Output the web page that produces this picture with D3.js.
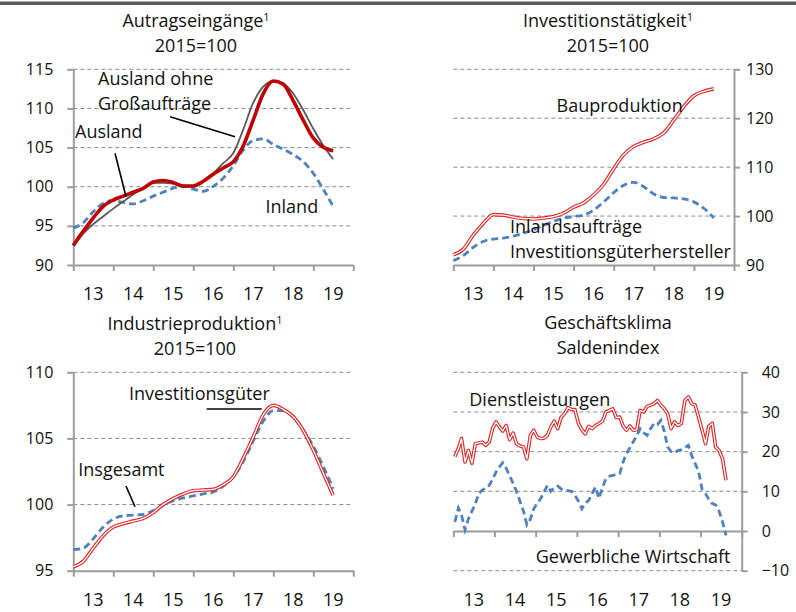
<!DOCTYPE html>
<html>
<head>
<meta charset="utf-8">
<title>Konjunkturindikatoren</title>
<style>
  body { margin: 0; background: #fff; }
  svg { font-family: "Open Sans", sans-serif; fill: #111; }
  .grid line { stroke: #8a8a8a; stroke-width: 1; stroke-dasharray: 4,3; }
  .axis path, .axis line { stroke: #9c9c9c; stroke-width: 2; }
  .axis text { font-size: 16px; fill: #111; font-family: "Open Sans", sans-serif; }
  .year { font-size: 18px; }
  .title { font-size: 18px; }
  .note { font-size: 18px; }
</style>
</head>
<body>
<script src="https://d3js.org/d3.v7.min.js"></script>
<script>
var W = 796, H = 612;

var yearLabels = ["13", "14", "15", "16", "17", "18", "19"];
// quarterly points Jan 2013 .. Jul 2019 (27), monthly Jan 2013 .. Aug 2019 (80)
var quarters = d3.timeMonth.every(3).range(new Date(2013, 0, 1), new Date(2019, 7, 1));
var months = d3.timeMonth.range(new Date(2013, 0, 1), new Date(2019, 8, 1));

// Auftragseingänge
var auslandVals = [92.5, 94.3, 96.0, 97.5, 98.3, 98.8, 99.3, 99.8, 100.6, 100.8, 100.55, 100.1, 100.1,
                   100.7, 101.6, 102.4, 103.2, 105.2, 108.5, 111.9, 113.5, 113.1, 111.0, 108.5, 106.2, 105.05, 104.6];
var auslandOhneVals = [92.5, 94.0, 95.2, 96.2, 97.2, 98.1, 99.0, 99.8, 100.5, 100.5, 100.4, 99.95, 100.0,
                       100.6, 101.7, 103.0, 104.3, 107.3, 110.7, 112.8, 113.5, 113.2, 111.9, 109.8, 107.4, 105.3, 103.5];
var inlandVals = [94.7, 95.4, 96.8, 97.9, 98.25, 98.0, 97.8, 98.2, 98.8, 99.3, 99.8, 100.1, 99.7,
                  99.4, 100.05, 101.1, 102.7, 104.7, 105.9, 106.1, 105.4, 104.8, 104.1, 103.2, 101.7, 99.7, 97.5];

// Investitionstätigkeit
var bauVals = [92.1, 93.2, 96.1, 98.5, 100.3, 100.2, 99.8, 99.5, 99.4, 99.6, 99.9, 100.6, 101.8,
               102.7, 104.3, 106.5, 109.7, 112.5, 114.2, 115.1, 115.8, 117.0, 119.6, 122.4, 124.6, 125.5, 126.0];
var invInlandVals = [90.9, 91.9, 93.6, 94.8, 95.3, 95.5, 95.9, 96.5, 97.2, 98.1, 98.9, 99.6, 99.9,
                     100.2, 101.2, 102.9, 104.8, 106.3, 106.9, 106.0, 104.5, 103.8, 103.7, 103.5, 102.9, 101.6, 99.6];

// Industrieproduktion
var invGueterVals = [95.3, 95.7, 96.7, 97.65, 98.3, 98.55, 98.75, 98.95, 99.4, 100.0, 100.45, 100.8, 101.05,
                     101.1, 101.15, 101.5, 102.1, 103.5, 105.1, 106.8, 107.5, 107.2, 106.65, 105.6, 104.1, 102.4, 100.7];
var insgesamtVals = [96.6, 96.7, 97.4, 98.3, 98.9, 99.15, 99.2, 99.25, 99.55, 99.95, 100.3, 100.5, 100.65,
                     100.8, 100.95, 101.4, 102.1, 103.25, 104.8, 106.3, 107.1, 107.1, 106.6, 105.65, 104.4, 102.9, 101.2];

// Geschäftsklima (monthly)
var dienstVals = [18.8, 20.8, 23.3, 17.4, 20.3, 17.1, 22.0, 22.2, 22.4, 21.6, 22.4, 25.8,
                  27.5, 26.2, 25.2, 26.6, 23.0, 24.7, 22.0, 21.4, 21.2, 18.2, 24.1, 25.4,
                  23.7, 23.3, 23.4, 24.1, 26.2, 27.7, 25.8, 28.7, 29.6, 31.1, 30.6, 30.6,
                  27.1, 25.5, 24.5, 26.4, 25.8, 26.6, 27.1, 27.7, 30.0, 30.4, 30.8, 28.6,
                  28.7, 26.4, 25.4, 26.5, 25.4, 25.5, 30.4, 30.0, 31.4, 31.7, 32.1, 32.9,
                  31.7, 30.8, 29.6, 25.8, 27.5, 26.6, 27.1, 32.9, 33.8, 32.1, 31.7, 28.7,
                  25.4, 22.0, 26.4, 27.1, 21.2, 20.3, 18.2, 12.8];
var gewerbeVals = [2.3, 5.8, 4.0, 0.3, 3.1, 5.0, 6.8, 9.5, 10.3, 10.8, 11.5, 13.0,
                   14.9, 16.2, 17.2, 15.8, 14.0, 12.0, 10.0, 7.5, 5.0, 1.6, 3.0, 5.6,
                   7.0, 8.2, 9.8, 11.5, 10.0, 11.0, 11.3, 10.6, 10.3, 10.2, 10.0, 9.0,
                   7.5, 5.6, 7.0, 7.7, 9.5, 11.1, 8.2, 11.0, 13.2, 13.8, 14.0, 14.3,
                   14.5, 17.5, 19.5, 21.0, 22.5, 24.0, 25.8, 24.8, 24.1, 25.8, 27.1, 26.8,
                   27.9, 25.0, 21.2, 20.0, 19.7, 20.3, 20.5, 21.0, 21.6, 19.0, 17.0, 15.0,
                   10.5, 9.4, 8.0, 6.9, 6.6, 5.0, 2.3, -1.1];

var svg = d3.select("body").append("svg").attr("width", W).attr("height", H);

svg.append("rect").attr("x", 0).attr("y", 1.5).attr("width", W).attr("height", 3.5).attr("fill", "#595959");

function panel(o) {
  var x = d3.scaleTime().domain([new Date(2013, 0, 1), new Date(2020, 0, 1)]).range([o.x0, o.x1]);
  var y = d3.scaleLinear().domain(o.domain).range([o.y1, o.y0]);
  var g = svg.append("g");
  var axisX = o.side === "left" ? o.x0 : o.x1;
  var base = o.base !== undefined ? o.base : o.domain[0];

  // dashed gridlines
  g.append("g").attr("class", "grid").selectAll("line")
    .data(o.ticks.filter(function(t) { return t !== base; })).enter()
    .append("line")
      .attr("x1", o.x0).attr("x2", o.x1)
      .attr("y1", function(d) { return y(d); }).attr("y2", function(d) { return y(d); });

  // value axis
  var ax = (o.side === "left" ? d3.axisLeft(y) : d3.axisRight(y))
    .tickValues(o.ticks).tickSize(6).tickSizeOuter(0).tickPadding(o.pad)
    .tickFormat(d3.format("d"));
  g.append("g").attr("class", "axis").attr("transform", "translate(" + axisX + ",0)").call(ax);

  // time axis
  var tx = d3.axisBottom(x)
    .tickValues(d3.timeYear.range(new Date(2013, 0, 1), new Date(2020, 0, 2)))
    .tickFormat("").tickSize(6).tickSizeOuter(0);
  g.append("g").attr("class", "axis").attr("transform", "translate(0," + y(base) + ")").call(tx);

  g.selectAll(".yr").data(yearLabels).enter().append("text")
    .attr("class", "year")
    .attr("x", function(d) { return x(new Date(2000 + (+d), 6, 2)); })
    .attr("y", o.yearY)
    .attr("text-anchor", "middle")
    .text(function(d) { return d; });

  // titles
  var t1 = g.append("text").attr("class", "title").attr("x", o.cx).attr("y", o.ty)
    .attr("text-anchor", "middle").text(o.title[0]);
  if (o.sup) t1.append("tspan").attr("font-size", 11).attr("dy", -6).text("1");
  g.append("text").attr("class", "title").attr("x", o.cx).attr("y", o.ty + 25)
    .attr("text-anchor", "middle").text(o.title[1]);

  return { x: x, y: y, g: g };
}

function series(p, dates, vals, style, curve) {
  var pts = dates.map(function(d, i) { return { date: d, v: vals[i] }; });
  var line = d3.line().x(function(d) { return p.x(d.date); }).y(function(d) { return p.y(d.v); })
    .curve(curve || d3.curveMonotoneX);
  if (style === "double") {
    p.g.append("path").datum(pts).attr("d", line).attr("fill", "none")
      .attr("stroke", "#de2a2a").attr("stroke-width", 3.6).attr("stroke-linejoin", "round");
    p.g.append("path").datum(pts).attr("d", line).attr("fill", "none")
      .attr("stroke", "#fff").attr("stroke-width", 1.3).attr("stroke-linejoin", "round");
  } else if (style === "blue") {
    p.g.append("path").datum(pts).attr("d", line).attr("fill", "none")
      .attr("stroke", "#4f81bd").attr("stroke-width", 2.8).attr("stroke-dasharray", "7,4");
  } else if (style === "red") {
    p.g.append("path").datum(pts).attr("d", line).attr("fill", "none")
      .attr("stroke", "#c00000").attr("stroke-width", 3.6).attr("stroke-linejoin", "round");
  } else {
    p.g.append("path").datum(pts).attr("d", line).attr("fill", "none")
      .attr("stroke", "#595959").attr("stroke-width", 1.8);
  }
}

function note(p, txt, x, y) {
  p.g.append("text").attr("class", "note").attr("x", x).attr("y", y).text(txt);
}
function leader(p, x1, y1, x2, y2) {
  p.g.append("line").attr("x1", x1).attr("y1", y1).attr("x2", x2).attr("y2", y2)
    .attr("stroke", "#000").attr("stroke-width", 1.6);
}

// Panel 1
var p1 = panel({ x0: 73.3, x1: 353.3, y0: 69.3, y1: 265, domain: [90, 115], ticks: [90, 95, 100, 105, 110, 115],
  side: "left", pad: 14, yearY: 300, cx: 196, ty: 27, title: ["Autragseingänge", "2015=100"], sup: true });
series(p1, quarters, inlandVals, "blue");
series(p1, quarters, auslandOhneVals, "gray");
series(p1, quarters, auslandVals, "red");
note(p1, "Ausland ohne", 98, 85);
note(p1, "Großaufträge", 98, 110);
note(p1, "Ausland", 75, 138);
note(p1, "Inland", 265.5, 213);
leader(p1, 170, 116.7, 235, 136.7);
leader(p1, 115, 153.3, 126, 196.7);

// Panel 2
var p2 = panel({ x0: 453.3, x1: 734, y0: 69.3, y1: 265, domain: [90, 130], ticks: [90, 100, 110, 120, 130],
  side: "right", pad: 6, yearY: 300, cx: 608, ty: 27, title: ["Investitionstätigkeit", "2015=100"], sup: true });
series(p2, quarters, invInlandVals, "blue");
series(p2, quarters, bauVals, "double");
note(p2, "Bauproduktion", 556.5, 111.5);
note(p2, "Inlandsaufträge", 510, 233);
note(p2, "Investitionsgüterhersteller", 510, 258);

// Panel 3
var p3 = panel({ x0: 73.3, x1: 353.3, y0: 372.3, y1: 570.7, domain: [95, 110], ticks: [95, 100, 105, 110],
  side: "left", pad: 14, yearY: 606, cx: 195, ty: 330, title: ["Industrieproduktion", "2015=100"], sup: true });
series(p3, quarters, insgesamtVals, "blue");
series(p3, quarters, invGueterVals, "double");
note(p3, "Investitionsgüter", 129, 400);
note(p3, "Insgesamt", 78.3, 476);
leader(p3, 206.7, 409, 261.7, 409);
leader(p3, 126, 486, 135, 506.7);

// Panel 4
var p4 = panel({ x0: 453.3, x1: 741.7, y0: 372.3, y1: 570.7, domain: [-10, 40], ticks: [-10, 0, 10, 20, 30, 40],
  base: 0, side: "right", pad: 14, yearY: 606, cx: 608, ty: 329, title: ["Geschäftsklima", "Saldenindex"], sup: false });
var mid = months.map(function(d) { return d3.timeDay.offset(d, 14); });
series(p4, mid, gewerbeVals, "blue", d3.curveLinear);
series(p4, mid, dienstVals, "double", d3.curveLinear);
note(p4, "Dienstleistungen", 469.3, 406);
note(p4, "Gewerbliche Wirtschaft", 535.7, 563.3);
</script>
</body>
</html>
